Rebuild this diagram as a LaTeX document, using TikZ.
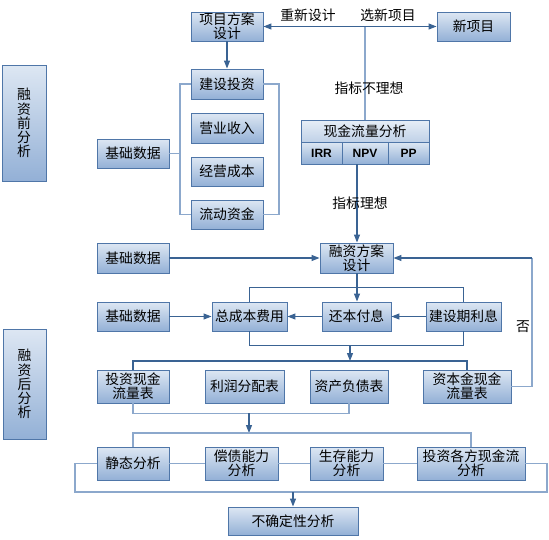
\documentclass[tikz,border=0pt]{standalone}
\usepackage{fontspec}
\newfontfamily\cjk{Noto Sans CJK SC}
\newfontfamily\lat{Liberation Sans}
\usetikzlibrary{arrows.meta}
\definecolor{bordc}{HTML}{4F76A8}
\definecolor{topc}{HTML}{DDE7F3}
\definecolor{botc}{HTML}{93B0D6}
\definecolor{arrc}{HTML}{3A6393}
\definecolor{brc}{HTML}{8CA8CC}
\tikzset{
  bx/.style={draw=bordc, line width=0.9pt, top color=topc, bottom color=botc, inner sep=0pt, align=center,
    font=\cjk\fontsize{13.8}{14.2}\selectfont},
  ar/.style={draw=arrc, line width=1.1pt, -{Triangle[length=8pt,width=6pt]}},
  ln/.style={draw=arrc, line width=1.1pt},
  br/.style={draw=brc, line width=1.8pt},
  lbl/.style={font=\cjk\fontsize{13.8}{14.2}\selectfont, inner sep=0pt},
}
\newcommand{\bxn}[6]{\node[bx, minimum width={(#4-#2)*1pt}, minimum height={(#5-#3)*1pt}] (#1) at ({(#2+#4)/2},{(#3+#5)/2}) {#6};}
\begin{document}
\begin{tikzpicture}[x=1pt,y=-1pt]
\useasboundingbox (0,0) rectangle (549,539);
% side labels
\bxn{pre}{2}{65}{46}{181}{\fontsize{13.8}{18.5}\selectfont 融\\资\\前\\分\\析}
\bxn{post}{3}{329}{46}{439}{\fontsize{13.8}{18.5}\selectfont 融\\资\\后\\分\\析}
% top part
\bxn{xmfa}{191}{12}{263}{41}{项目方案\\设计}
\bxn{jstz}{191}{69}{263}{99}{建设投资}
\bxn{yysr}{191}{113}{263}{143}{营业收入}
\bxn{jycb}{191}{157}{263}{186}{经营成本}
\bxn{ldzj}{191}{200}{263}{229}{流动资金}
\bxn{jc1}{97}{139}{169}{168}{基础数据}
\bxn{xxm}{437}{12}{510}{41}{新项目}
\node[bx, top color=topc!70!white, bottom color=topc!60!botc, minimum width=128pt, minimum height=22pt] (cfa) at (365,131) {现金流量分析};
\node[bx, minimum width=41pt, minimum height=22pt, font=\lat\bfseries\fontsize{12}{13}\selectfont] (irr) at (321.5,153) {IRR};
\node[bx, minimum width=46pt, minimum height=22pt, font=\lat\bfseries\fontsize{12}{13}\selectfont] (npv) at (365,153) {NPV};
\node[bx, minimum width=41pt, minimum height=22pt, font=\lat\bfseries\fontsize{12}{13}\selectfont] (pp) at (408.5,153) {PP};
% middle part
\bxn{rzfa}{320}{243}{393}{273}{融资方案\\设计}
\bxn{jc2}{97}{243}{169}{273}{基础数据}
\bxn{jc3}{97}{302}{169}{331}{基础数据}
\bxn{zcb}{212}{302}{287}{331}{总成本费用}
\bxn{hbfx}{322}{302}{391}{331}{还本付息}
\bxn{jsq}{426}{302}{501}{331}{建设期利息}
\bxn{tzxj}{97}{370}{169}{403}{投资现金\\流量表}
\bxn{lrfp}{205}{370}{284}{403}{利润分配表}
\bxn{zcfz}{310}{370}{388}{403}{资产负债表}
\bxn{zbj}{423}{370}{511}{403}{资本金现金\\流量表}
\bxn{jtfx}{97}{447}{169}{480}{静态分析}
\bxn{cznl}{205}{447}{278}{480}{偿债能力\\分析}
\bxn{scnl}{310}{447}{383}{480}{生存能力\\分析}
\bxn{tzgf}{417}{447}{525}{480}{投资各方现金流\\分析}
\bxn{bqd}{228}{507}{358}{535}{不确定性分析}
% top connectors
\draw[ar] (xmfa) -- (jstz);
\coordinate (top) at (365,26.5);
\draw[br, line width=1.4pt] (cfa.north) -- (top);
\draw[ar] (top) -- (xmfa.east);
\draw[ar] (top) -- (xxm.west);
\node[lbl] (l1) at (308,15) {重新设计};
\node[lbl] (l2) at (388,15) {选新项目};
\node[lbl] (l3) at (369,88) {指标不理想};
% bracket around investment items
\coordinate (bl1) at (180,84);
\coordinate (bl2) at (180,214.5);
\coordinate (br1) at (279,84);
\coordinate (br2) at (279,214.5);
\draw[br] (jc1.east) -- (jc1.east -| bl1);
\draw[br] (jstz.west) -- (bl1) -- (bl2) -- (ldzj.west);
\draw[br] (jstz.east) -- (br1) -- (br2) -- (ldzj.east);
% to financing design
\coordinate (npvx) at (357,164);
\draw[ar] (npvx) -- (npvx |- rzfa.north);
\node[lbl] (l4) at (360,203) {指标理想};
\draw[ar] (jc2.east) -- (rzfa.west);
\draw[ar] (rzfa.south -| npvx) -- (hbfx.north -| npvx);
\draw[ar] (jsq.west) -- (hbfx.east);
\draw[ar] (hbfx.west) -- (zcb.east);
\draw[ar] (jc3.east) -- (zcb.west);
% bracket around cost row
\draw[ln] (zcb.north) -- ++(0,-14.5) -| (jsq.north);
\draw[ln] (zcb.south) -- ++(0,14) -| (jsq.south);
\coordinate (m1) at (350,345);
\coordinate (m2) at (350,361);
\draw[ar] (m1) -- (m2);
\draw[ln] (tzxj.north) -- (tzxj.north |- m2) -| (zbj.north);
% feedback
\coordinate (fb1) at (532,386.5);
\coordinate (fb2) at (532,258);
\draw[br, line width=1.4pt] (zbj.east) -- (fb1) -- (fb2);
\draw[ar] (fb2) -- (rzfa.east);
\node[lbl] (l5) at (523,327) {否};
% statements to analysis
\draw[br] (tzxj.south) -- ++(0,10) -| (zcfz.south);
\coordinate (m3) at (249,413);
\coordinate (m4) at (249,433);
\draw[ar] (m3) -- (m4);
\draw[br] (jtfx.north) -- (jtfx.north |- m4) -| (tzgf.north);
\draw[br] (jtfx.east) -- (cznl.west);
\draw[br] (cznl.east) -- (scnl.west);
\draw[br] (scnl.east) -- (tzgf.west);
\coordinate (b1) at (75,492);
\coordinate (b2) at (547,492);
\draw[br] (jtfx.west) -| (b1) -- (b2) |- (tzgf.east);
\coordinate (m5) at (293,492);
\draw[ar] (m5) -- (bqd.north -| m5);
\end{tikzpicture}
\end{document}
